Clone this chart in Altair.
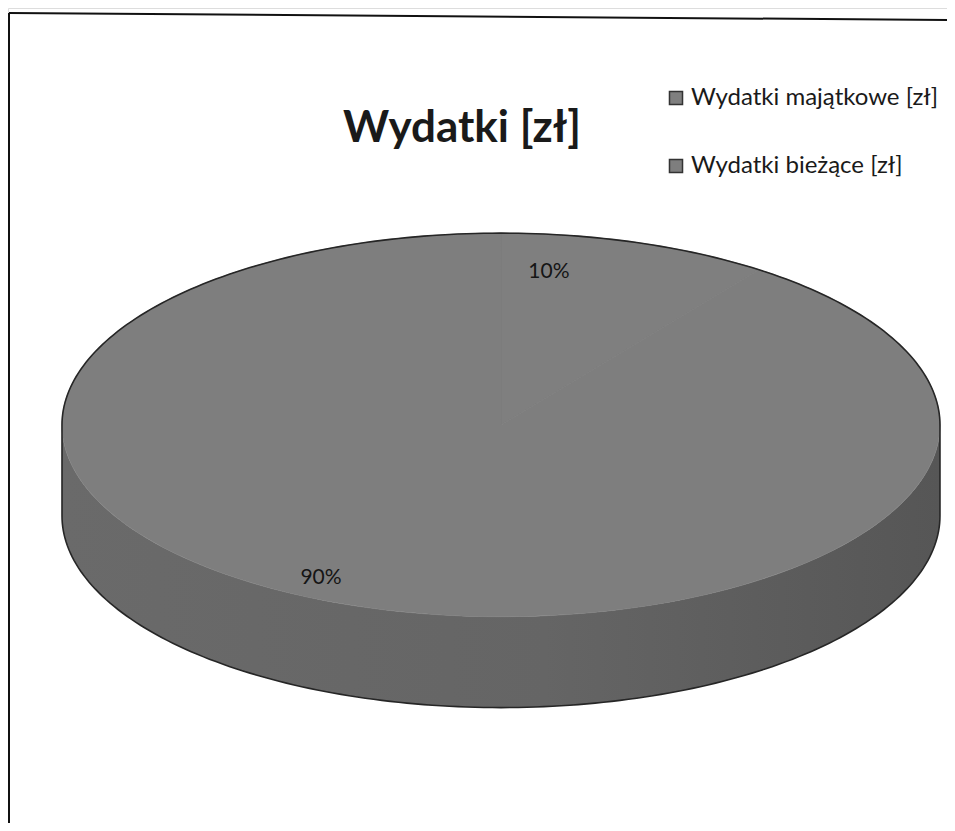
import altair as alt
import pandas as pd

# ---- data ----
categories = ["Wydatki majątkowe [zł]", "Wydatki bieżące [zł]"]
shares = [10, 90]          # percent of total
slice_order = [0, 1]       # first slice starts at 12 o'clock, clockwise
top_colors = ["#7f7f7f", "#7e7e7e"]

df = pd.DataFrame({"cat": categories, "value": shares, "ord": slice_order})

# ---- layout / 3-D look ----
W, H = 939, 815
TILT = 0.437      # vertical squash of the pie's top face
DEPTH = 0.207     # thickness of the pie
N = 120           # points per slice edge
X_DOM = [-1.123, 1.016]
Y_DOM = [-0.907, 0.950]
FONT = "Lato"

xs = alt.Scale(domain=X_DOM)
ys = alt.Scale(domain=Y_DOM)

base = (
    alt.Chart(df)
    .transform_joinaggregate(total="sum(value)")
    .transform_window(cum="sum(value)", sort=[alt.SortField("ord")], frame=[None, 0])
    .transform_calculate(
        start="2*PI*(datum.cum-datum.value)/datum.total",
        end="2*PI*datum.cum/datum.total",
    )
)

# side wall (only front half, t in [PI/2, 3PI/2])
side = (
    base.transform_calculate(
        s1="max(datum.start, PI/2)", e1="min(datum.end, 3*PI/2)"
    )
    .transform_filter("datum.e1 > datum.s1")
    .transform_calculate(idx=f"sequence(0, {2 * N + 2})")
    .transform_flatten(["idx"])
    .transform_calculate(
        k=f"datum.idx <= {N} ? datum.idx : {2 * N + 1} - datum.idx",
    )
    .transform_calculate(t=f"datum.s1 + (datum.e1 - datum.s1) * datum.k / {N}")
    .transform_calculate(
        px="sin(datum.t)",
        py=f"cos(datum.t) * {TILT} - (datum.idx > {N} ? {DEPTH} : 0)",
    )
    .mark_line(
        interpolate="linear-closed",
        fill=alt.Gradient(
            gradient="linear",
            x1=0, x2=1, y1=0, y2=0,
            stops=[
                alt.GradientStop(color="#6a6a6a", offset=0),
                alt.GradientStop(color="#656565", offset=0.55),
                alt.GradientStop(color="#565656", offset=1),
            ],
        ),
        stroke="#666666",
        strokeWidth=0,
    )
    .encode(
        x=alt.X("px:Q", scale=xs, axis=None),
        y=alt.Y("py:Q", scale=ys, axis=None),
        order="idx:Q",
        detail="cat:N",
    )
)

# top face slices
top = (
    base.transform_calculate(idx=f"sequence(0, {N + 2})")
    .transform_flatten(["idx"])
    .transform_calculate(
        t=f"datum.start + (datum.end - datum.start) * min(datum.idx, {N}) / {N}"
    )
    .transform_calculate(
        px=f"datum.idx > {N} ? 0 : sin(datum.t)",
        py=f"datum.idx > {N} ? 0 : cos(datum.t) * {TILT}",
    )
    .mark_line(interpolate="linear-closed", strokeWidth=0.8, stroke="#7e7e7e")
    .encode(
        x=alt.X("px:Q", scale=xs, axis=None),
        y=alt.Y("py:Q", scale=ys, axis=None),
        fill=alt.Fill(
            "cat:N",
            scale=alt.Scale(domain=categories, range=top_colors),
            sort=categories,
            legend=alt.Legend(
                title=None,
                orient="none",
                legendX=656,
                legendY=78,
                symbolType="square",
                symbolSize=170,
                symbolStrokeColor="#333333",
                symbolStrokeWidth=1.5,
                labelFont=FONT,
                labelFontSize=24,
                labelColor="#1a1a1a",
                labelOffset=3,
                rowPadding=44,
                labelLimit=400,
            ),
        ),
        order="idx:Q",
        detail="cat:N",
    )
)

# silhouette outline
M = 160
outline = (
    alt.Chart(alt.sequence(0, 2 * M + 2, as_="k"))
    .transform_calculate(
        t=f"datum.k <= {M} ? -PI/2 + PI*datum.k/{M} : PI/2 + PI*(datum.k-{M + 1})/{M}"
    )
    .transform_calculate(
        px="sin(datum.t)",
        py=f"cos(datum.t) * {TILT} - (datum.k > {M} ? {DEPTH} : 0)",
    )
    .mark_line(interpolate="linear-closed", color="#262626", strokeWidth=1.6)
    .encode(
        x=alt.X("px:Q", scale=xs, axis=None),
        y=alt.Y("py:Q", scale=ys, axis=None),
        order="k:Q",
    )
)

# percentage labels
labels = (
    base.transform_calculate(
        mid="(datum.start + datum.end) / 2",
        lab="format(datum.value / datum.total, '.0%')",
    )
    .transform_calculate(
        px="sin(datum.mid) * 0.84", py=f"cos(datum.mid) * {TILT} * 0.84"
    )
    .mark_text(font=FONT, fontSize=21, color="#151515", dx=-66)
    .encode(
        x=alt.X("px:Q", scale=xs, axis=None),
        y=alt.Y("py:Q", scale=ys, axis=None),
        text="lab:N",
    )
)

# frame of the chart area (scan border)
frame_top = alt.Chart().mark_rule(color="#111111", strokeWidth=2).encode(
    x=alt.value(1), x2=alt.value(W), y=alt.value(5), y2=alt.value(12)
)
frame_left = alt.Chart().mark_rule(color="#111111", strokeWidth=2).encode(
    x=alt.value(1), x2=alt.value(1), y=alt.value(5), y2=alt.value(H)
)

chart = (
    alt.layer(side, top, outline, labels, frame_top, frame_left)
    .properties(
        width=W,
        height=H,
        autosize=alt.AutoSizeParams(type="none"),
        padding=0,
        title=alt.TitleParams(
            text="Wydatki [zł]",
            font=FONT,
            fontSize=44,
            fontWeight="bold",
            color="#1a1a1a",
            anchor="start",
            frame="group",
            baseline="alphabetic",
            offset=0,
            dx=335,
            dy=178,
        ),
    )
    .configure_view(stroke=None)
    .configure(background="white")
)

chart.save("out.html", embed_options={"renderer": "svg", "actions": False})
